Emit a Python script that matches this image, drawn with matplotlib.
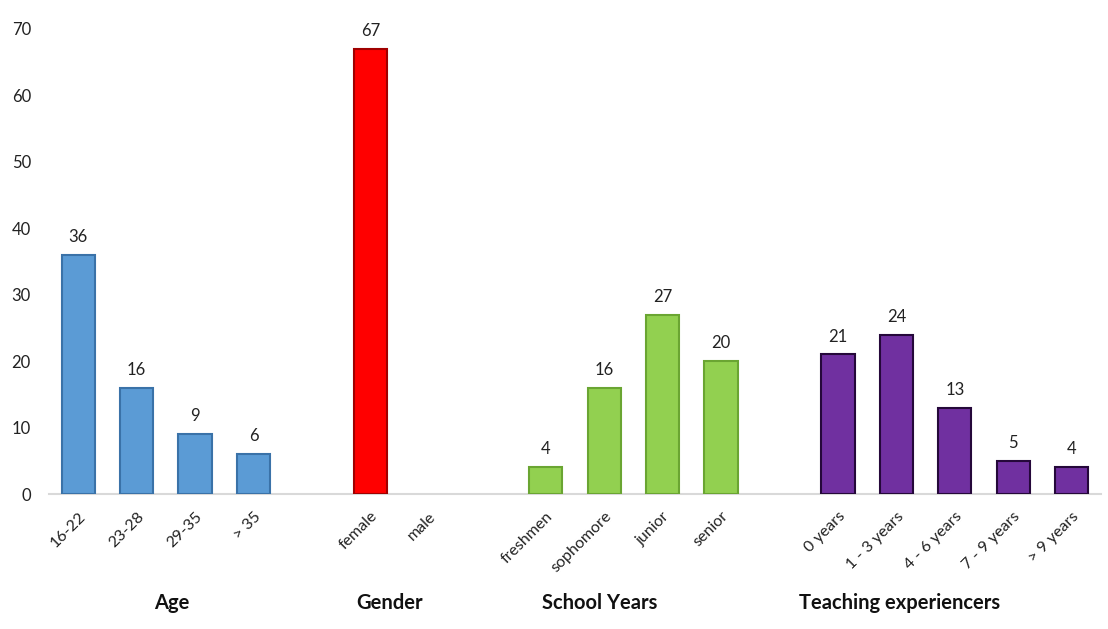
import matplotlib
matplotlib.use("Agg")
import matplotlib.pyplot as plt

plt.rcParams['font.family'] = ['Lato', 'DejaVu Sans']

age_labels = ["16-22", "23-28", "29-35", "> 35"]
age_values = [36, 16, 9, 6]
gender_labels = ["female", "male"]
gender_values = [67, 0]
school_labels = ["freshmen", "sophomore", "junior", "senior"]
school_values = [4, 16, 27, 20]
teach_labels = ["0 years", "1 - 3 years", "4 - 6 years", "7 - 9 years", "> 9 years"]
teach_values = [21, 24, 13, 5, 4]
group_titles = ["Age", "Gender", "School Years", "Teaching experiencers"]

groups = [
    (age_labels, age_values, "#5B9BD5", "#3A72A8"),
    (gender_labels, gender_values, "#FF0000", "#A00000"),
    (school_labels, school_values, "#92D050", "#6AA532"),
    (teach_labels, teach_values, "#7030A0", "#25083A"),
]

fig = plt.figure(figsize=(11.08, 6.29), dpi=100)
ax = fig.add_axes([0.0442, 0.2146, 0.9494, 0.7394])

pos = 0
tick_pos, tick_lab = [], []
for gi, (labs, vals, fc, ec) in enumerate(groups):
    xs = list(range(pos, pos + len(labs)))
    shown = [(x, v) for x, v in zip(xs, vals) if v > 0]
    ax.bar([s[0] for s in shown], [s[1] for s in shown], width=0.57,
           color=fc, edgecolor=ec, linewidth=1.5, zorder=3)
    for x, v in shown:
        ax.text(x, v + 1.5, str(v), ha='center', va='bottom', fontsize=12, color='#222222')
    tick_pos += xs
    tick_lab += labs
    pos += len(labs) + 1

ax.set_xlim(-0.5, 17.5)
ax.set_ylim(0, 70)
ax.set_yticks(range(0, 71, 10))
ax.set_xticks(tick_pos)
ax.set_xticklabels(tick_lab, rotation=45, ha='right', rotation_mode='anchor', fontsize=11.5, color='#222222')
ax.tick_params(axis='both', length=0)
ax.tick_params(axis='y', labelsize=12, labelcolor='#222222', pad=13)
ax.tick_params(axis='x', pad=11)
for s in ['top', 'right', 'left']:
    ax.spines[s].set_visible(False)
ax.spines['bottom'].set_color('#D9D9D9')
ax.spines['bottom'].set_linewidth(1.5)

title_x = [1.6, 5.33, 8.92, 14.05]
for t, x in zip(group_titles, title_x):
    ax.text(x, -16.4, t, ha='center', va='center', fontsize=14.5, fontweight='bold', color='#111111')

fig.savefig("out.png", dpi=100)
